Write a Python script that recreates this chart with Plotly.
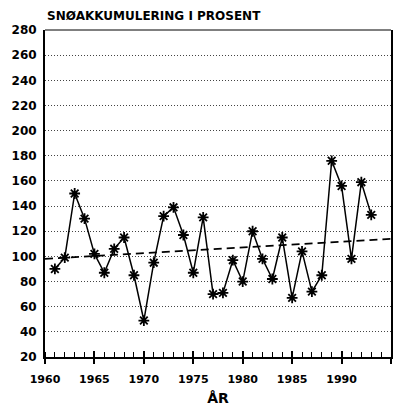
import plotly.graph_objects as go

# Annual snow accumulation as percent of normal
years = list(range(1961, 1994))
snow_pct = [90, 99, 150, 130, 102, 87, 106, 115, 85, 49,
            95, 132, 139, 117, 87, 131, 70, 71, 97, 80,
            120, 98, 82, 115, 67, 104, 72, 85, 176, 156,
            98, 159, 133]

# Linear trend, end points
trend_years = [1960, 1995]
trend_pct = [98, 114]

title_text = "SNØAKKUMULERING I PROSENT"
x_title = "ÅR"
x_ticks = [1960, 1965, 1970, 1975, 1980, 1985, 1990, 1995]
y_ticks = list(range(20, 281, 20))

FONT = "DejaVu Sans"

fig = go.Figure()

fig.add_trace(go.Scatter(
    x=trend_years, y=trend_pct, mode="lines",
    line=dict(color="black", width=1.8, dash="8px,5px"),
    hoverinfo="skip", showlegend=False,
))

fig.add_trace(go.Scatter(
    x=years, y=snow_pct, mode="lines+markers",
    line=dict(color="black", width=1.5),
    marker=dict(symbol="asterisk-open", size=9, color="black",
                line=dict(color="black", width=1.8)),
    showlegend=False,
))

# extra axis for the 5-year ticks that point into the plot
fig.add_trace(go.Scatter(x=[1960], y=[20], xaxis="x2", mode="markers",
                         marker=dict(opacity=0), hoverinfo="skip",
                         showlegend=False))

fig.update_layout(
    width=406, height=416,
    margin=dict(l=43, r=15, t=30, b=50),
    paper_bgcolor="white", plot_bgcolor="white",
    font=dict(family=FONT, color="black"),
    xaxis=dict(
        range=[1960, 1995], tickvals=x_ticks,
        ticks="outside", ticklen=5, tickwidth=1.5, tickcolor="black",
        minor=dict(dtick=1, tick0=1960, ticks="inside", ticklen=5,
                   tickwidth=1.2, tickcolor="black", showgrid=False),
        showgrid=False, zeroline=False,
        showline=True, linecolor="black", linewidth=2,
        tickfont=dict(family=FONT, size=11, color="black", weight="bold"),
        ticklabelstandoff=6,
        title=dict(text=x_title, standoff=8,
                   font=dict(family=FONT, size=14, color="black", weight="bold")),
    ),
    xaxis2=dict(
        overlaying="x", matches="x", range=[1960, 1995], tickvals=x_ticks,
        ticks="inside", ticklen=6, tickwidth=1.5, tickcolor="black",
        showticklabels=False, showgrid=False, zeroline=False,
        showline=False, anchor="y", side="bottom",
    ),
    yaxis=dict(
        range=[20, 280], tickvals=y_ticks,
        ticks="", showgrid=True, gridcolor="#444", gridwidth=1,
        griddash="1px,2px", zeroline=False,
        showline=True, linecolor="black", linewidth=2, mirror=True,
        tickfont=dict(family=FONT, size=12, color="black", weight="bold"),
        ticklabelstandoff=4,
    ),
    shapes=[dict(type="line", xref="paper", yref="paper",
                 x0=0, x1=1, y0=1, y1=1,
                 line=dict(color="black", width=1))],
    annotations=[dict(text=title_text, xref="paper", yref="paper",
                      x=0, y=1, xanchor="left", yanchor="bottom", yshift=5,
                      showarrow=False,
                      font=dict(family=FONT, size=12, color="black",
                                weight="bold"))],
)

fig.write_html("out.html")
